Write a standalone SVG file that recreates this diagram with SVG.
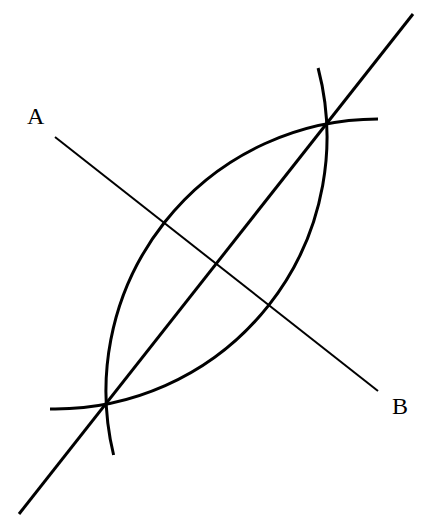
<svg xmlns="http://www.w3.org/2000/svg" width="434" height="524" viewBox="0 0 434 524">
<style>
.thick{fill:none;stroke:#000;stroke-width:3;stroke-linecap:butt}
.thin{fill:none;stroke:#000;stroke-width:2}
.lbl{font-family:"Liberation Serif","DejaVu Serif",serif;font-size:24px;fill:#000}
</style>
<rect width="434" height="524" fill="#fff"/>
<g id="connectors">
<line id="segAB" class="thin" x1="55" y1="137" x2="378" y2="391"/>
<line id="bisector" class="thick" x1="19" y1="514" x2="413" y2="14"/>
<path id="arcB" class="thick" d="M378,119 A272,272 0 0 0 113.6,455"/>
<path id="arcA" class="thick" d="M318.1,68 A272,272 0 0 1 50,409"/>
</g>
<g id="A"><text class="lbl" x="27" y="124">A</text></g>
<g id="B"><text class="lbl" x="392" y="414">B</text></g>
</svg>
